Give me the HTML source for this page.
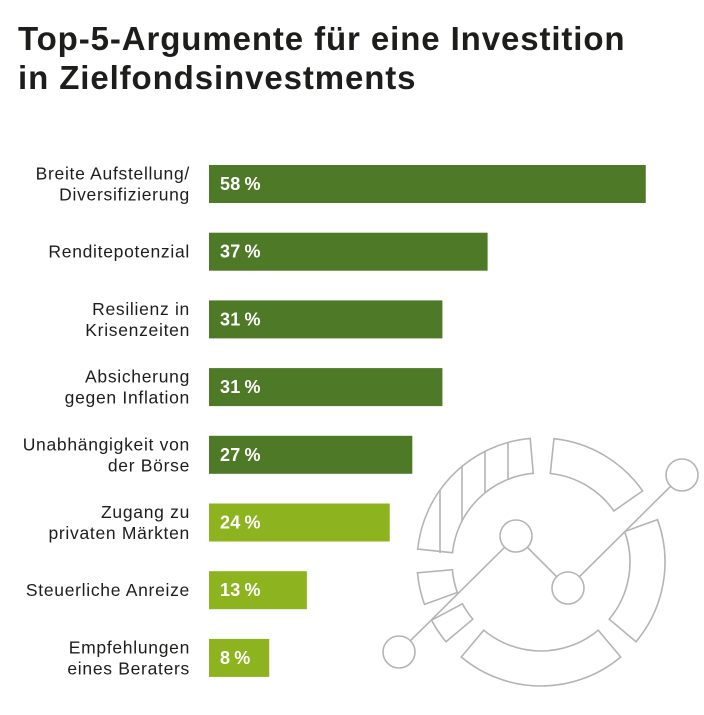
<!DOCTYPE html>
<html><head><meta charset="utf-8"><style>
body{margin:0;background:#fff;width:704px;height:715px;overflow:hidden;font-family:"Liberation Sans",sans-serif;}
#t{position:absolute;left:18px;top:19px;font-size:33px;font-weight:bold;line-height:39px;color:#1d1d1b;letter-spacing:0.9px}
svg{position:absolute;left:0;top:0}
</style></head><body>
<div id="t">Top-5-Argumente für eine Investition<br>in Zielfondsinvestments</div>
<svg id="c" width="704" height="715">
<g id="deco" fill="none" stroke="#b4b4b4" stroke-width="1.6"></g>
<g id="bars"></g>
</svg>
<script>
const categories=[["Breite Aufstellung/","Diversifizierung"],["Renditepotenzial"],["Resilienz in","Krisenzeiten"],["Absicherung","gegen Inflation"],["Unabhängigkeit von","der Börse"],["Zugang zu","privaten Märkten"],["Steuerliche Anreize"],["Empfehlungen","eines Beraters"]];
const values=[58,37,31,31,27,24,13,8];
const highlight=[true,true,true,true,true,false,false,false];
const NS="http://www.w3.org/2000/svg";
const x=v=>209+v*7.53, y=i=>184+i*67.7;
const g=document.getElementById('bars');
function mk(t,a,p){const e=document.createElementNS(NS,t);for(const k in a)e.setAttribute(k,a[k]);p.appendChild(e);return e;}
values.forEach((v,i)=>{
 const r=mk('rect',{x:209,y:y(i)-19,width:x(v)-209,height:38,fill:highlight[i]?'#4e7a27':'#8db41f'},g);
 
 
 const tv=mk('text',{x:220,y:y(i)+6,fill:'#fff','font-size':18,'font-weight':'bold','letter-spacing':0.3},g);tv.textContent=v+'\u2009%';
 
 
 const lines=categories[i];
 const tl=mk('text',{x:190,'text-anchor':'end',fill:'#1d1d1b','font-size':17.5,'letter-spacing':0.7},g);
 
 
 lines.forEach((s,j)=>{const ts=mk('tspan',{x:190,y:y(i)+6+(j-(lines.length-1)/2)*21},tl);ts.textContent=s;});
});
const d=document.getElementById('deco');const cx=541,cy=562,R=124,r=89;
const P=(a,rr)=>[cx+rr*Math.cos(a*Math.PI/180),cy+rr*Math.sin(a*Math.PI/180)];
function seg(a1,a2){const o1=P(a1,R),o2=P(a2,R),i1=P(a1,r),i2=P(a2,r);const lg=(a2-a1)>180?1:0;
 mk('path',{d:`M${o1} A${R},${R} 0 ${lg} 1 ${o2} L${i2} A${r},${r} 0 ${lg} 0 ${i1} Z`},d);}
[[186,265],[276,325],[340,400],[50,130],[140,152],[160,175]].forEach(s=>seg(s[0],s[1]));
[440,462,485,508].forEach((xx,k)=>{const yo=cy-Math.sqrt(R*R-(xx-cx)**2);const yi=k==0?553:cy-Math.sqrt(Math.max(0,r*r-(xx-cx)**2));mk('line',{x1:xx,y1:yo,x2:xx,y2:yi},d);});
mk('polyline',{points:"399,652 516,536 568,588 682,475",fill:'none'},d);
[[399,652],[516,536],[568,588],[682,475]].forEach(p=>mk('circle',{cx:p[0],cy:p[1],r:16,fill:'#fff'},d));
</script>
</body></html>
